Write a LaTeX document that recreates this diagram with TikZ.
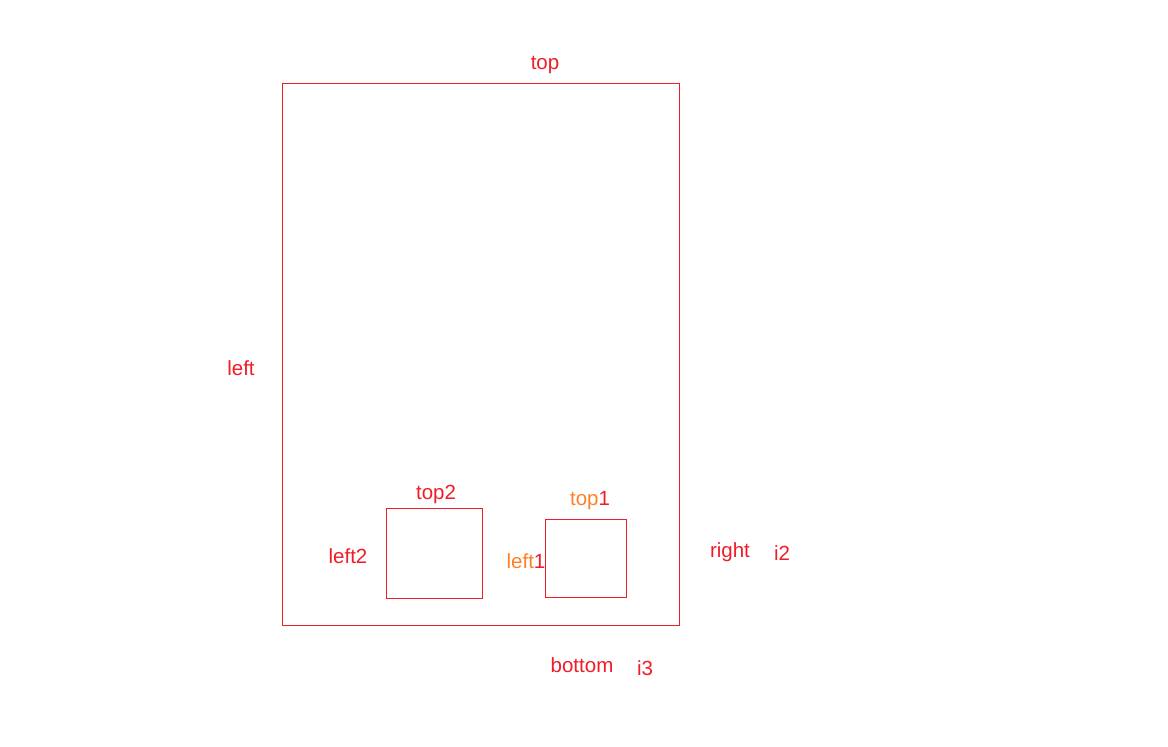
\documentclass[tikz,border=0pt]{standalone}
\usepackage{xcolor}
\usepackage{fontspec}
\setmainfont{Liberation Sans}
\usepackage{tikz}
\usetikzlibrary{positioning}
\definecolor{boxred}{RGB}{240,28,40}
\definecolor{lblorange}{RGB}{255,128,40}
\tikzstyle{frame} = [draw=boxred, line width=1pt, inner sep=0pt, anchor=center]
\tikzstyle{lbl} = [text=boxred, inner sep=0pt, font=\fontsize{20.5pt}{22pt}\selectfont]

\begin{document}
\begin{tikzpicture}[x=1pt, y=-1pt]
			\useasboundingbox (0,0) rectangle (1168,747);
			
			% outer frame and the two boxes
			\node[frame, minimum width=397pt, minimum height=542pt] (outer) at (480.5,354) {};
			\node[frame, minimum width=96pt, minimum height=90pt] (box2) at (434,553) {};
			\node[frame, minimum width=81pt, minimum height=78pt] (box1) at (585.5,558) {};
			
			% labels of the outer frame
			\node[lbl] (top) at (545,65) {top};
			\node[lbl] (left) at (241,368) {left};
			\node[lbl] (right) at (730,552) {right};
			\node[lbl] (i2) at (782,553) {i2};
			\node[lbl] (bottom) at (582,665) {bottom};
			\node[lbl] (i3) at (645,668) {i3};
			
			% labels of the boxes
			\node[lbl] (top2) at (436,494) {top2};
			\node[lbl] (left2) at (348,556) {left2};
			\node[lbl] (top1) at (590,501) {{\color{lblorange}top}1};
			\node[lbl] (left1) at (526,561) {{\color{lblorange}left}1};
			
		\end{tikzpicture}
\end{document}
